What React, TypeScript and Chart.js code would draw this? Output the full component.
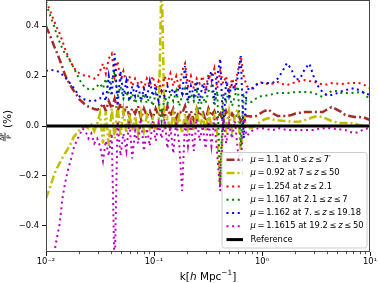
import React, { useEffect, useRef } from 'react';
import { Chart, registerables } from 'chart.js';

Chart.register(...registerables);

// wavenumbers k [h/Mpc]
const kValues = [
  0.0100, 0.0106, 0.0112, 0.0119, 0.0126, 0.0134, 0.0142, 0.0150, 0.0160, 0.0170,
  0.0180, 0.0192, 0.0205, 0.0218, 0.0232, 0.0247, 0.0263, 0.0280, 0.0298,
  0.0316, 0.0337, 0.0358, 0.0381, 0.0406, 0.0432, 0.0460, 0.0490, 0.0521, 0.0555,
  0.0591, 0.0629, 0.0669, 0.0712, 0.0758, 0.0807, 0.0859, 0.0915, 0.0974, 0.1037,
  0.1104, 0.1175, 0.1251, 0.1332, 0.1418, 0.1509, 0.1607, 0.1710, 0.1821, 0.1938,
  0.2063, 0.2197, 0.2338, 0.2489, 0.2650, 0.2821, 0.3003, 0.3197, 0.3403, 0.3623,
  0.3857, 0.4106, 0.4371, 0.4653, 0.4953, 0.5273, 0.5613, 0.5976, 0.6361, 0.6772,
  0.7209,
  0.80, 0.88, 0.96, 1.05, 1.15, 1.27, 1.40, 1.55, 1.70, 1.87, 2.05, 2.25, 2.50, 2.75,
  3.00, 3.30, 3.65, 4.00, 4.40, 4.85, 5.35, 5.90, 6.50, 7.15, 7.90, 8.70, 9.50, 10.0,
];

// mu = 1.1 at 0 <= z <= 7'
const mu110 = [
  0.40, 0.375, 0.35, 0.32, 0.295, 0.265, 0.235, 0.205, 0.18, 0.16,
  0.142, 0.125, 0.105, 0.095, 0.085, 0.078, 0.072, 0.068, 0.065,
  0.07, 0.09, 0.06, 0.1, 0.07, 0.11, 0.06, 0.09, 0.05, 0.08,
  0.04, 0.07, 0.05, 0.08, 0.03, 0.07, 0.04, 0.06, 0.03, 0.07,
  0.04, 0.06, 0.03, 0.08, 0.04, 0.07, 0.03, 0.06, 0.05, 0.08,
  0.03, 0.06, 0.02, 0.07, 0.04, 0.06, 0.02, 0.07, 0.04, 0.06,
  0.03, 0.05, 0.02, 0.06, 0.03, 0.05, 0.03, 0.05, 0.02, 0.05,
  0.04,
  0.038, 0.04, 0.05, 0.06, 0.066, 0.05, 0.04, 0.04, 0.04, 0.044, 0.05, 0.053, 0.056, 0.056,
  0.056, 0.056, 0.056, 0.066, 0.076, 0.068, 0.058, 0.044, 0.04, 0.036, 0.036, 0.035, 0.028, 0.024,
];

// mu = 0.92 at 7 <= z <= 50
const mu092 = [
  -0.29, -0.26, -0.23, -0.195, -0.17, -0.148, -0.128, -0.11, -0.09, -0.07,
  -0.045, -0.03, -0.015, -0.005, 0.0, -0.01, 0.005, -0.02, 0.01,
  0.05, -0.07, 0.06, -0.08, 0.07, -0.05, 0.08, -0.04, 0.06, -0.03,
  0.05, -0.02, 0.04, -0.03, 0.05, -0.02, 0.04, -0.01, 0.03, -0.02,
  0.0, 0.62, 0.0, 0.03, -0.02, 0.05, -0.01, 0.04, -0.03, 0.05,
  -0.01, 0.04, -0.02, 0.06, -0.01, 0.04, -0.02, 0.05, 0.0, 0.04,
  -0.03, -0.24, 0.05, -0.01, 0.06, -0.02, 0.04, 0.07, -0.1, 0.05,
  -0.01,
  -0.008, 0.004, 0.016, 0.026, 0.032, 0.026, 0.023, 0.021, 0.02, 0.018, 0.017, 0.018, 0.024, 0.03,
  0.036, 0.04, 0.035, 0.028, 0.02, 0.015, 0.012, 0.012, 0.012, 0.01, 0.004, 0.0, -0.002, -0.002,
];

// mu = 1.254 at z <= 2.1
const mu1254 = [
  0.50, 0.475, 0.45, 0.42, 0.395, 0.37, 0.34, 0.31, 0.28, 0.255,
  0.235, 0.22, 0.21, 0.205, 0.2, 0.2, 0.195, 0.19, 0.195,
  0.22, 0.25, 0.21, 0.27, 0.29, 0.2, 0.26, 0.18, 0.22, 0.17,
  0.2, 0.16, 0.19, 0.17, 0.18, 0.15, 0.19, 0.16, 0.2, 0.15,
  0.18, 0.14, 0.2, 0.17, 0.21, 0.16, 0.2, 0.15, 0.22, 0.25,
  0.16, 0.2, 0.15, 0.19, 0.17, 0.2, 0.14, 0.21, 0.18, 0.23,
  0.15, 0.22, 0.17, 0.2, 0.13, 0.19, 0.16, 0.22, 0.28, 0.2,
  0.16,
  0.15, 0.165, 0.176, 0.172, 0.168, 0.17, 0.176, 0.168, 0.164, 0.17, 0.176, 0.18, 0.184, 0.18,
  0.177, 0.172, 0.166, 0.166, 0.172, 0.17, 0.168, 0.17, 0.172, 0.172, 0.172, 0.166, 0.158, 0.152,
];

// mu = 1.167 at 2.1 <= z <= 7
const mu1167 = [
  0.49, 0.46, 0.43, 0.40, 0.365, 0.335, 0.31, 0.29, 0.275, 0.255,
  0.235, 0.21, 0.185, 0.165, 0.155, 0.148, 0.144, 0.15, 0.16,
  0.17, 0.15, 0.19, 0.13, 0.18, 0.22, 0.12, 0.16, 0.11, 0.14,
  0.1, 0.13, 0.09, 0.12, 0.1, 0.13, 0.09, 0.12, 0.08, 0.13,
  0.1, 0.02, 0.12, 0.09, 0.13, 0.1, 0.14, 0.08, 0.12, 0.15,
  0.09, 0.13, 0.1, 0.14, 0.06, 0.12, 0.09, 0.14, 0.16, 0.08,
  0.14, -0.24, 0.13, 0.1, 0.14, 0.08, 0.12, 0.16, -0.08, 0.12,
  0.1,
  0.096, 0.11, 0.118, 0.12, 0.124, 0.128, 0.132, 0.132, 0.132, 0.134, 0.136, 0.136, 0.136, 0.136,
  0.133, 0.125, 0.116, 0.128, 0.14, 0.14, 0.133, 0.132, 0.132, 0.133, 0.135, 0.134, 0.115, 0.096,
];

// mu = 1.162 at 7. <= z <= 19.18
const mu1162 = [
  0.22, 0.224, 0.225, 0.222, 0.22, 0.216, 0.205, 0.195, 0.18, 0.168,
  0.153, 0.136, 0.118, 0.11, 0.105, 0.102, 0.1, 0.1, 0.105,
  0.11, 0.13, 0.1, 0.2, 0.12, 0.29, 0.08, 0.22, 0.12, 0.18,
  0.1, 0.16, 0.12, 0.17, 0.1, 0.15, 0.11, 0.18, 0.12, 0.16,
  0.1, 0.14, 0.12, 0.16, 0.13, 0.15, 0.12, 0.16, 0.13, 0.24,
  0.1, 0.16, 0.12, 0.18, 0.1, 0.17, 0.13, 0.19, 0.22, 0.1,
  0.2, 0.27, -0.02, 0.18, 0.12, 0.17, 0.14, 0.2, 0.28, -0.05,
  0.15,
  0.144, 0.165, 0.172, 0.172, 0.172, 0.174, 0.19, 0.22, 0.252, 0.228, 0.185, 0.19, 0.23, 0.25,
  0.2, 0.16, 0.135, 0.124, 0.124, 0.13, 0.138, 0.144, 0.148, 0.152, 0.144, 0.134, 0.128, 0.124,
];

// mu = 1.1615 at 19.2 <= z <= 50
const mu11615 = [
  null, null, -0.6, -0.51, -0.45, -0.39, -0.29, -0.23, -0.175, -0.135,
  -0.09, -0.06, -0.035, -0.01, -0.02, -0.05, -0.03, -0.07, -0.05,
  -0.08, -0.14, -0.06, -0.12, -0.03, -0.6, 0.02, -0.12, -0.03, -0.1,
  0.02, -0.13, -0.02, -0.07, 0.03, -0.1, -0.01, -0.08, 0.02, -0.06,
  0.01, -0.05, 0.03, -0.09, 0.0, -0.11, 0.02, -0.07, -0.26, 0.02,
  -0.08, 0.01, -0.1, 0.03, -0.06, 0.0, -0.09, 0.02, -0.08, 0.03,
  -0.12, -0.26, 0.03, -0.07, 0.01, -0.05, 0.02, -0.1, -0.15, 0.03,
  -0.04,
  -0.02, -0.012, -0.008, -0.01, -0.014, -0.016, -0.008, -0.012, -0.016, -0.016, -0.016, -0.016, -0.016, -0.016,
  -0.016, -0.012, -0.01, -0.008, -0.01, -0.012, -0.014, -0.016, -0.024, -0.028, -0.024, -0.014, -0.01, -0.008,
];

const referenceK = [0.01, 10];
const referenceValues = [0, 0];

const seriesLabels = [
  '$μ$\u2009=\u20091.1 at 0\u2009≤\u2009$z$\u2009≤\u20097′',
  '$μ$\u2009=\u20090.92 at 7\u2009≤\u2009$z$\u2009≤\u200950',
  '$μ$\u2009=\u20091.254 at $z$\u2009≤\u20092.1',
  '$μ$\u2009=\u20091.167 at 2.1\u2009≤\u2009$z$\u2009≤\u20097',
  '$μ$\u2009=\u20091.162 at 7.\u2009≤\u2009$z$\u2009≤\u200919.18',
  '$μ$\u2009=\u20091.1615 at 19.2\u2009≤\u2009$z$\u2009≤\u200950',
  'Reference',
];

const xTickValues = [0.01, 0.1, 1, 10];
const xTickLabels = ['10⁻²', '10⁻¹', '10⁰', '10¹'];
const yTickValues = [-0.4, -0.2, 0, 0.2, 0.4];
const yTickLabels = ['−0.4', '−0.2', '0.0', '0.2', '0.4'];

const FONT = '"DejaVu Sans"';
const TICK_SIZE = 8.4;
const LABEL_SIZE = 10.5;
const LEGEND_SIZE = 8.4;

type Part = { text: string; italic?: boolean; sup?: boolean };

function parseMath(label: string): Part[] {
  return label
    .split('$')
    .map((t, i) => ({ text: t, italic: i % 2 === 1 }))
    .filter((p) => p.text.length > 0);
}

function fontFor(size: number, italic?: boolean) {
  return `${italic ? 'italic ' : ''}${size}px ${FONT}`;
}

function measureParts(ctx: CanvasRenderingContext2D, parts: Part[], size: number) {
  let w = 0;
  for (const p of parts) {
    ctx.font = fontFor(p.sup ? size * 0.7 : size, p.italic);
    w += ctx.measureText(p.text).width;
  }
  return w;
}

function drawParts(ctx: CanvasRenderingContext2D, parts: Part[], x: number, y: number, size: number) {
  let cx = x;
  for (const p of parts) {
    const s = p.sup ? size * 0.7 : size;
    ctx.font = fontFor(s, p.italic);
    ctx.fillText(p.text, cx, y + (p.sup ? -size * 0.4 : 0));
    cx += ctx.measureText(p.text).width;
  }
}

const DOTTED = [2, 3.6];
const DASHDOT = [8, 3, 2, 3];

const seriesStyles = [
  { data: mu110, color: '#a52a2a', dash: DASHDOT, width: 2.5 },
  { data: mu092, color: '#bfbf00', dash: DASHDOT, width: 2.5 },
  { data: mu1254, color: '#ff0000', dash: DOTTED, width: 2 },
  { data: mu1167, color: '#008000', dash: DOTTED, width: 2 },
  { data: mu1162, color: '#0000ff', dash: DOTTED, width: 2 },
  { data: mu11615, color: '#bf00bf', dash: DOTTED, width: 2 },
];

const framePlugin = {
  id: 'mplFrame',
  afterDatasetsDraw(chart: any) {
    const { ctx, chartArea: ca } = chart;
    const xs = chart.scales.x;
    ctx.save();
    ctx.strokeStyle = '#444';
    ctx.lineWidth = 1;
    ctx.setLineDash([]);
    ctx.strokeRect(Math.round(ca.left) + 0.5, Math.round(ca.top) + 0.5,
      Math.round(ca.right - ca.left) - 1, Math.round(ca.bottom - ca.top) - 1);
    // minor ticks of the log axis
    ctx.strokeStyle = '#000';
    ctx.lineWidth = 0.7;
    ctx.beginPath();
    for (let e = -2; e <= 0; e++) {
      for (let m = 2; m <= 9; m++) {
        const px = Math.round(xs.getPixelForValue(m * Math.pow(10, e))) + 0.5;
        ctx.moveTo(px, ca.bottom);
        ctx.lineTo(px, ca.bottom + 2.2);
      }
    }
    ctx.stroke();
    ctx.restore();
  },
};

const labelsPlugin = {
  id: 'mplLabels',
  afterDraw(chart: any) {
    const { ctx, chartArea: ca } = chart;
    ctx.save();
    ctx.fillStyle = '#000';
    ctx.textBaseline = 'alphabetic';
    ctx.textAlign = 'left';

    // x-axis title: k[h Mpc^-1]
    const xParts: Part[] = [
      { text: 'k[' },
      { text: 'h', italic: true },
      { text: ' Mpc' },
      { text: '−1', sup: true },
      { text: ']' },
    ];
    const xw = measureParts(ctx, xParts, LABEL_SIZE);
    drawParts(ctx, xParts, (ca.left + ca.right) / 2 - xw / 2, 279.5, LABEL_SIZE);

    // y-axis title: ΔP/P (%)
    const cy = (ca.top + ca.bottom) / 2;
    ctx.translate(5, cy);
    ctx.rotate(-Math.PI / 2);
    const fs = 6;
    ctx.font = fontFor(fs);
    const numW = ctx.measureText('ΔP').width;
    const denW = ctx.measureText('P').width;
    const fracC = -11;
    ctx.fillText('ΔP', fracC - numW / 2, -1);
    ctx.fillText('P', fracC - denW / 2, 5.5);
    ctx.fillRect(fracC - numW / 2 - 0.5, -0.4, numW + 1, 0.8);
    ctx.font = fontFor(LABEL_SIZE);
    ctx.fillText('(%)', -2, 5.5);
    ctx.restore();

    // legend
    ctx.save();
    const bw = 145;
    const bh = 95.5;
    const bx = ca.right - 3.5 - bw;
    const by = ca.bottom - 4.5 - bh;
    ctx.beginPath();
    (ctx as any).roundRect(bx + 0.5, by + 0.5, bw, bh, 2.5);
    ctx.fillStyle = 'rgba(255,255,255,0.85)';
    ctx.fill();
    ctx.strokeStyle = '#cccccc';
    ctx.lineWidth = 1;
    ctx.stroke();
    chart.data.datasets.forEach((ds: any, i: number) => {
      const y = by + 7.8 + i * 13.3;
      ctx.beginPath();
      ctx.setLineDash(ds.borderDash || []);
      ctx.lineDashOffset = 0;
      ctx.strokeStyle = ds.borderColor;
      ctx.lineWidth = ds.borderWidth;
      ctx.lineCap = 'butt';
      ctx.moveTo(bx + 5, y);
      ctx.lineTo(bx + 21.5, y);
      ctx.stroke();
      ctx.setLineDash([]);
      ctx.fillStyle = '#000';
      ctx.textBaseline = 'middle';
      drawParts(ctx, parseMath(ds.label), bx + 29, y, LEGEND_SIZE);
    });
    ctx.restore();
  },
};

export default function App() {
  const ref = useRef<HTMLCanvasElement | null>(null);

  useEffect(() => {
    document.body.style.margin = '0';
    const canvas = ref.current;
    if (!canvas) return;

    const datasets: any[] = seriesStyles.map((s, i) => ({
      label: seriesLabels[i],
      data: kValues.map((k, j) => ({ x: k, y: s.data[j] })),
      borderColor: s.color,
      backgroundColor: s.color,
      borderDash: s.dash,
      borderWidth: s.width,
      borderCapStyle: 'butt',
      pointRadius: 0,
      tension: 0,
      fill: false,
      spanGaps: false,
      clip: 0,
      order: 6 - i,
    }));
    datasets.push({
      label: seriesLabels[6],
      data: referenceK.map((k, j) => ({ x: k, y: referenceValues[j] })),
      borderColor: '#000000',
      backgroundColor: '#000000',
      borderWidth: 3,
      pointRadius: 0,
      fill: false,
      clip: 0,
      order: 0,
    });

    const chart = new Chart(canvas, {
      type: 'line',
      data: { datasets },
      options: {
        responsive: false,
        animation: false,
        devicePixelRatio: 1,
        layout: { autoPadding: false, padding: { top: 0, right: 9, bottom: 0, left: 0 } },
        plugins: { legend: { display: false }, tooltip: { enabled: false } },
        scales: {
          x: {
            type: 'logarithmic',
            min: 0.01,
            max: 10,
            afterBuildTicks: (s: any) => {
              s.ticks = xTickValues.map((v) => ({ value: v, major: true }));
            },
            afterFit: (s: any) => {
              s.height = 31;
              s.paddingLeft = 0;
              s.paddingRight = 0;
              s.paddingTop = 0;
              s.paddingBottom = 0;
            },
            ticks: {
              callback: (_v: any, i: number) => xTickLabels[i],
              font: { family: FONT, size: TICK_SIZE },
              color: '#000',
              maxRotation: 0,
              autoSkip: false,
              padding: 1,
            },
            grid: { drawOnChartArea: false, drawTicks: true, tickLength: 4, color: '#000', lineWidth: 0.9 },
            border: { display: false },
          },
          y: {
            type: 'linear',
            min: -0.505,
            max: 0.505,
            afterBuildTicks: (s: any) => {
              s.ticks = yTickValues.map((v) => ({ value: v }));
            },
            afterFit: (s: any) => {
              s.width = 46;
              s.paddingLeft = 0;
              s.paddingRight = 0;
              s.paddingTop = 0;
              s.paddingBottom = 0;
            },
            ticks: {
              callback: (_v: any, i: number) => yTickLabels[i],
              font: { family: FONT, size: TICK_SIZE },
              color: '#000',
              padding: 3,
            },
            grid: { drawOnChartArea: false, drawTicks: true, tickLength: 4, color: '#000', lineWidth: 0.9 },
            border: { display: false },
          },
        },
      },
      plugins: [framePlugin, labelsPlugin],
    } as any);

    return () => chart.destroy();
  }, []);

  return (
    <div style={{ width: 379, height: 283 }}>
      <canvas ref={ref} width={379} height={283} style={{ width: 379, height: 283, display: 'block' }} />
    </div>
  );
}
